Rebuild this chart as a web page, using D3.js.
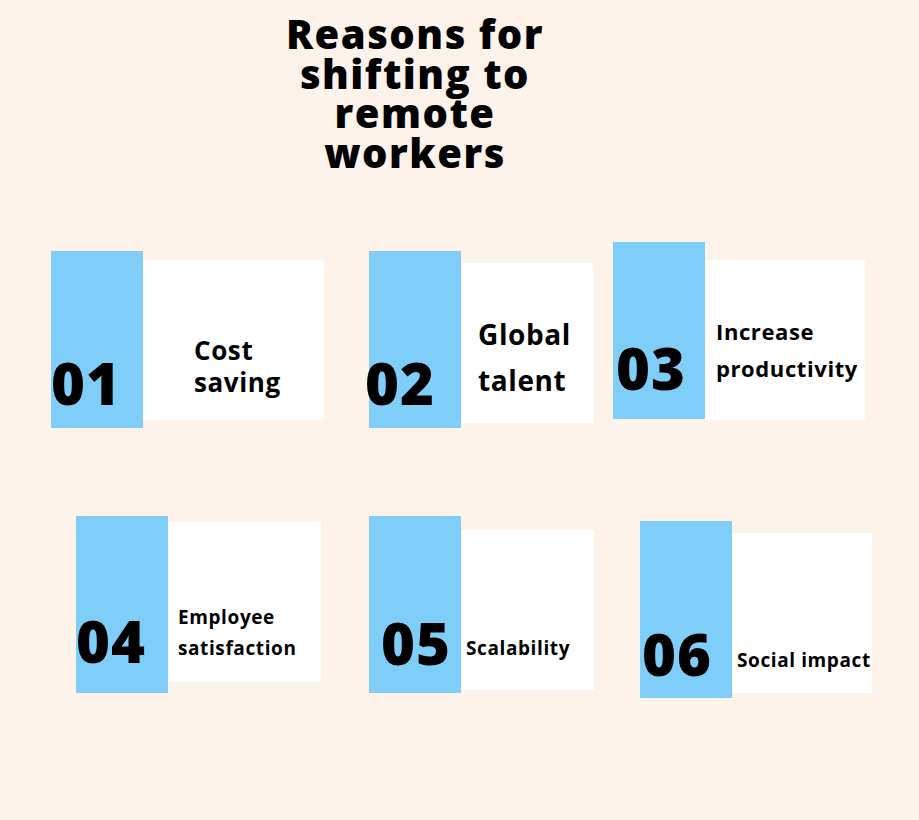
<!DOCTYPE html>
<html><head><meta charset="utf-8">
<script src="https://cdn.jsdelivr.net/npm/d3@7"></script>
<style>body{margin:0;background:#fdf3ea}</style>
</head><body><div id="chart"></div>
<script>
const titleLines = ["Reasons for", "shifting to", "remote", "workers"];
const numbers = ["01", "02", "03", "04", "05", "06"];
const labels = [["Cost", "saving"], ["Global", "talent"], ["Increase", "productivity"],
  ["Employee", "satisfaction"], ["Scalability"], ["Social impact"]];

// card layout (blue block, white panel, text placement)
const layout = [
  {bx: 51, by: 251, wx: 142, wy: 260, ww: 182, wh: 160, ny: 405, nx: 51, tx: 194, ty: 360, fs: 26, lh: 32},
  {bx: 369, by: 251, wx: 460, wy: 263, ww: 134, wh: 160, ny: 405, nx: 365, tx: 478, ty: 345, fs: 28, lh: 46},
  {bx: 613, by: 242, wx: 705, wy: 260, ww: 160, wh: 160, ny: 390, nx: 616, tx: 716, ty: 340, fs: 22, lh: 37},
  {bx: 76, by: 516, wx: 167, wy: 522, ww: 154, wh: 160, ny: 663, nx: 76, tx: 178, ty: 624, fs: 19, lh: 31},
  {bx: 369, by: 516, wx: 460, wy: 530, ww: 134, wh: 160, ny: 665, nx: 381, tx: 466, ty: 655, fs: 19, lh: 31},
  {bx: 640, by: 521, wx: 732, wy: 533, ww: 140, wh: 160, ny: 676, nx: 642, tx: 737, ty: 667, fs: 19, lh: 31}
];
const font = "'Open Sans', sans-serif";

const svg = d3.select("#chart").append("svg")
  .attr("width", 919).attr("height", 820)
  .style("background", "#fdf3ea");

svg.append("text")
  .attr("x", 415).attr("y", 49)
  .attr("text-anchor", "middle")
  .style("font-family", font).style("font-weight", 800).style("font-size", "40px")
  .style("letter-spacing", "1.5px")
  .selectAll("tspan").data(titleLines).join("tspan")
  .attr("x", 415).attr("dy", (d, i) => i ? 39.5 : 0)
  .text(d => d);

const cards = svg.selectAll("g.card").data(numbers).join("g").attr("class", "card");

cards.append("rect")
  .attr("x", (d, i) => layout[i].wx).attr("y", (d, i) => layout[i].wy)
  .attr("width", (d, i) => layout[i].ww).attr("height", (d, i) => layout[i].wh)
  .attr("fill", "#ffffff");

cards.append("rect")
  .attr("x", (d, i) => layout[i].bx).attr("y", (d, i) => layout[i].by)
  .attr("width", 92).attr("height", 177)
  .attr("fill", "#7ecef9");

cards.append("text")
  .attr("x", (d, i) => layout[i].nx).attr("y", (d, i) => layout[i].ny)
  .style("font-family", font).style("font-weight", 800).style("font-size", "58px")
  .style("letter-spacing", "1px")
  .attr("fill", "#000").text(d => d);

cards.append("text")
  .attr("y", (d, i) => layout[i].ty)
  .style("font-family", font).style("font-weight", 700)
  .style("font-size", (d, i) => layout[i].fs + "px")
  .style("letter-spacing", "0.6px")
  .each(function(d, i) {
    d3.select(this).selectAll("tspan").data(labels[i]).join("tspan")
      .attr("x", layout[i].tx).attr("dy", (t, j) => j ? layout[i].lh : 0)
      .text(t => t);
  });
</script>
</body></html>
